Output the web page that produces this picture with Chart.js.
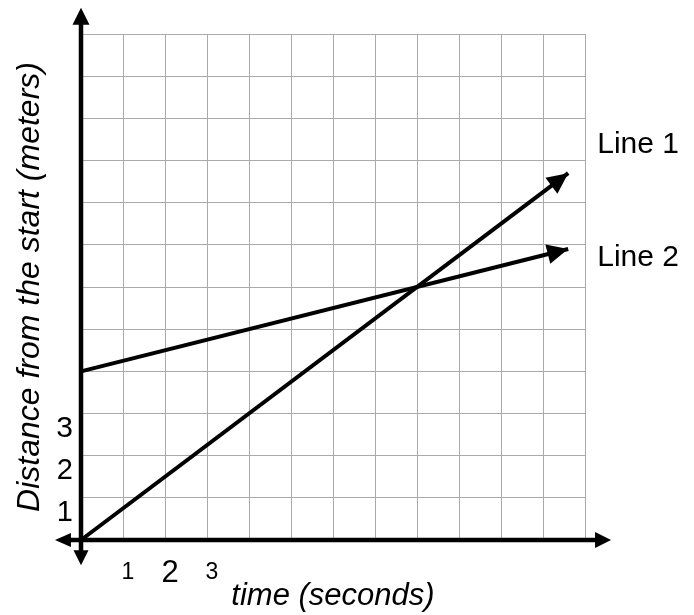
<!DOCTYPE html>
<html>
<head>
<meta charset="utf-8">
<script src="https://cdn.jsdelivr.net/npm/chart.js@4"></script>
<style>
  html, body { margin: 0; padding: 0; background: #fff; }
</style>
</head>
<body>
<canvas id="chart" width="694" height="615"></canvas>
<script>
const lineNames = ["Line 1", "Line 2"];
const line1X = [0, 11.6];
const line1Y = [0, 8.7];
const line2X = [0, 11.6];
const line2Y = [4, 6.9];
const xTickLabels = ["1", "2", "3"];
const yTickLabels = ["1", "2", "3"];
const xTitle = "time (seconds)";
const yTitle = "Distance from the start (meters)";

const FONT = '"Liberation Sans", Arial, sans-serif';
// tick sizes differ in the original picture
const xTickSize = { 1: 23, 2: 31, 3: 23 };
const yTickSize = { 1: 29, 2: 29, 3: 30 };
const labelShift = [-28, 9];

const toPoints = (xs, ys) => xs.map((x, i) => ({ x: x, y: ys[i] }));

const drawHead = (ctx, tx, ty, angle, len, half) => {
  ctx.save();
  ctx.translate(tx, ty);
  ctx.rotate(angle);
  ctx.beginPath();
  ctx.moveTo(0, 0);
  ctx.lineTo(-len, -half);
  ctx.lineTo(-len, half);
  ctx.closePath();
  ctx.fill();
  ctx.restore();
};

const arrowPlugin = {
  id: "arrows",
  beforeDatasetsDraw(chart) {
    const { ctx } = chart;
    const { x, y } = chart.scales;
    const x0 = x.getPixelForValue(0);
    const y0 = y.getPixelForValue(0);
    const xl = x.getPixelForValue(-0.62);
    const xr = x.getPixelForValue(12.62);
    const yt = y.getPixelForValue(12.62);
    const yb = y.getPixelForValue(-0.6);
    ctx.save();
    ctx.strokeStyle = "#000";
    ctx.fillStyle = "#000";
    ctx.lineWidth = 4.5;
    ctx.beginPath();
    ctx.moveTo(xl + 10, y0);
    ctx.lineTo(xr - 10, y0);
    ctx.moveTo(x0, yb - 10);
    ctx.lineTo(x0, yt + 10);
    ctx.stroke();
    drawHead(ctx, xr, y0, 0, 16, 8);
    drawHead(ctx, xl, y0, Math.PI, 16, 7);
    drawHead(ctx, x0, yt, -Math.PI / 2, 17, 8.5);
    drawHead(ctx, x0, yb, Math.PI / 2, 15, 7.5);
    ctx.restore();
  },
  afterDatasetsDraw(chart) {
    const { ctx } = chart;
    ctx.save();
    ctx.fillStyle = "#000";
    ctx.font = "30px " + FONT;
    ctx.textBaseline = "middle";
    ctx.textAlign = "left";
    chart.data.datasets.forEach((ds, i) => {
      const pts = chart.getDatasetMeta(i).data;
      const a = pts[pts.length - 2];
      const b = pts[pts.length - 1];
      const ang = Math.atan2(b.y - a.y, b.x - a.x);
      drawHead(ctx, b.x, b.y, ang, 21, 10);
      ctx.fillText(ds.label, b.x + 29, b.y + labelShift[i]);
    });
    ctx.restore();
  },
};

const lineStyle = {
  showLine: true,
  borderColor: "#000",
  borderWidth: 4,
  pointRadius: 0,
  clip: false,
};

new Chart(document.getElementById("chart"), {
  type: "scatter",
  data: {
    datasets: [
      { label: lineNames[0], data: toPoints(line1X, line1Y), ...lineStyle },
      { label: lineNames[1], data: toPoints(line2X, line2Y), ...lineStyle },
    ],
  },
  options: {
    responsive: false,
    animation: false,
    layout: { padding: { top: 34, right: 109, left: 0, bottom: 0 } },
    plugins: { legend: { display: false }, tooltip: { enabled: false } },
    scales: {
      x: {
        type: "linear",
        min: 0,
        max: 12,
        afterFit: (s) => { s.height = 75; },
        grid: { color: "#aaaaaa", lineWidth: 1, drawTicks: false },
        border: { display: false },
        ticks: {
          stepSize: 1,
          autoSkip: false,
          maxRotation: 0,
          padding: 20,
          labelOffset: 5,
          color: "#000",
          font: (c) => ({ family: FONT, size: xTickSize[c.tick && c.tick.value] || 23, lineHeight: "26px" }),
          callback: (v) => (xTickLabels.includes(String(v)) ? String(v) : ""),
        },
        title: {
          display: true,
          text: xTitle,
          color: "#000",
          padding: 0,
          font: { family: FONT, size: 31, style: "italic" },
        },
      },
      y: {
        type: "linear",
        min: 0,
        max: 12,
        afterFit: (s) => { s.width = 81; },
        grid: { color: "#aaaaaa", lineWidth: 1, drawTicks: false },
        border: { display: false },
        ticks: {
          stepSize: 1,
          autoSkip: false,
          padding: 8,
          labelOffset: 15,
          color: "#000",
          font: (c) => ({ family: FONT, size: yTickSize[c.tick && c.tick.value] || 29 }),
          callback: (v) => (yTickLabels.includes(String(v)) ? String(v) : ""),
        },
        title: {
          display: true,
          text: yTitle,
          color: "#000",
          padding: { top: 11, bottom: 0 },
          font: { family: FONT, size: 32, style: "italic" },
        },
      },
    },
  },
  plugins: [arrowPlugin],
});
</script>
</body>
</html>
